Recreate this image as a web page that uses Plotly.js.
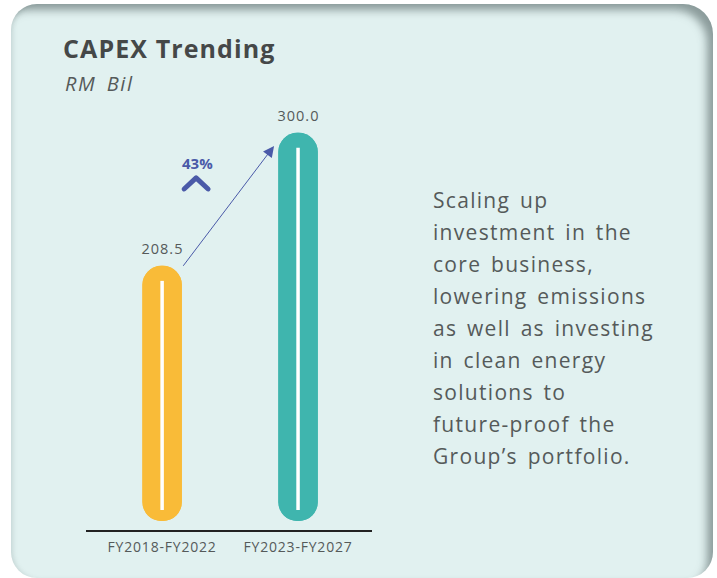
<!DOCTYPE html>
<html>
<head>
<meta charset="utf-8">
<script src="https://cdn.plot.ly/plotly-3.0.1.min.js"></script>
<style>
  html, body { margin: 0; padding: 0; background: #ffffff; width: 717px; height: 578px; overflow: hidden; }
  #panel {
    position: absolute; left: 11px; top: 4px; width: 702px; height: 574px;
    background: #e1f1f0; border-radius: 26px 30px 26px 26px;
    box-shadow: inset -9px 9px 8px -3px rgba(70, 85, 85, 0.55), inset 4px 0 4px -2px rgba(120,140,140,0.25);
  }
  #chart { position: absolute; left: 0; top: 0; width: 717px; height: 578px; }
  .xtick text { letter-spacing: 0.8px; }
  .gtitle { letter-spacing: 1.1px; }
</style>
</head>
<body>
<div id="panel"></div>
<div id="chart"></div>
<script>
// ---- data ----
const CATEGORIES = ["FY2018-FY2022", "FY2023-FY2027"];
const VALUES = [208.5, 300.0];
const VALUE_LABELS = ["208.5", "300.0"];
const BAR_COLORS = ["#f9bb38", "#3fb5ae"];
const GROWTH_LABEL = "43%";
const TITLE = "CAPEX Trending";
const SUBTITLE = "RM Bil";
const DESC_LINES = [
  "Scaling up",
  "investment in the",
  "core business,",
  "lowering emissions",
  "as well as investing",
  "in clean energy",
  "solutions to",
  "future-proof the",
  "Group\u2019s portfolio."
];

// ---- layout constants ----
const W = 717, H = 578;
const plotL = 86, plotR = 372, plotT = 100, plotB = 530;
const BAR_BASE = 33;          // bottom of pills (data units)
const Y_RANGE = [26.8, 322.6];
const PX_PER_UNIT = (plotB - plotT) / (Y_RANGE[1] - Y_RANGE[0]);
const BAR_WIDTH = 0.29;
const TXT = "#555a5a";
const ACCENT = "#4a5aa8";
const FONT = "Open Sans, Lato, sans-serif";

const px2paperX = px => (px - plotL) / (plotR - plotL);
const px2paperY = py => (plotB - py) / (plotB - plotT);

const traces = [
  { // upward bar: rounded top
    type: "bar", x: CATEGORIES, y: VALUES.map(v => v - BAR_BASE), base: VALUES.map(() => BAR_BASE),
    width: BAR_WIDTH, marker: { color: BAR_COLORS, cornerradius: "50%", line: { width: 0 } },
    hoverinfo: "skip", showlegend: false
  },
  { // downward bar: rounded bottom
    type: "bar", x: CATEGORIES, y: VALUES.map(v => -(v - BAR_BASE)), base: VALUES,
    width: BAR_WIDTH, marker: { color: BAR_COLORS, cornerradius: "50%", line: { width: 0 } },
    hoverinfo: "skip", showlegend: false
  }
];
// white centre lines
CATEGORIES.forEach((c, i) => {
  traces.push({
    type: "scatter", mode: "lines", x: [c, c],
    y: [BAR_BASE + 11 / PX_PER_UNIT, VALUES[i] - 15 / PX_PER_UNIT],
    line: { color: "#ffffff", width: 3.5 }, hoverinfo: "skip", showlegend: false
  });
});

const annotations = [];
CATEGORIES.forEach((c, i) => {
  annotations.push({
    x: i, y: VALUES[i], xref: "x", yref: "y", text: VALUE_LABELS[i], showarrow: false,
    yanchor: "bottom", yshift: 6, font: { family: FONT, size: 14.5, color: TXT }
  });
});
// growth arrow
annotations.push({
  x: 1 - 24 / 136, y: VALUES[1] - 9, xref: "x", yref: "y",
  ax: 20 / 136, ay: VALUES[0] - 1, axref: "x", ayref: "y",
  text: "", showarrow: true, arrowhead: 2, arrowsize: 2.2, arrowwidth: 1, arrowcolor: ACCENT, standoff: 0, startstandoff: 0
});
annotations.push({
  x: 0.257, y: 279.3, xref: "x", yref: "y", text: "<b>" + GROWTH_LABEL + "</b>", showarrow: false,
  font: { family: FONT, size: 15, color: ACCENT }
});
// subtitle
annotations.push({
  x: px2paperX(63), y: px2paperY(84), xref: "paper", yref: "paper", text: "<i>" + SUBTITLE + "</i>", showarrow: false,
  xanchor: "left", yanchor: "middle", align: "left", font: { family: FONT, size: 20, color: TXT }
});
// description lines
DESC_LINES.forEach((t, k) => {
  annotations.push({
    x: px2paperX(431), y: px2paperY(200 + k * 32), xref: "paper", yref: "paper", text: t, showarrow: false,
    xanchor: "left", yanchor: "middle", align: "left", font: { family: FONT, size: 21, color: TXT }
  });
});

const layout = {
  width: W, height: H,
  margin: { l: plotL, r: W - plotR, t: plotT, b: H - plotB, pad: 0 },
  paper_bgcolor: "rgba(0,0,0,0)", plot_bgcolor: "rgba(0,0,0,0)",
  barmode: "overlay",
  title: {
    text: "<b>" + TITLE + "</b>", xref: "container", yref: "container",
    x: 63 / W, xanchor: "left", y: 1 - 49 / H, yanchor: "middle",
    font: { family: FONT, size: 25, color: "#454848" }
  },
  xaxis: {
    type: "category", range: [-0.56, 1.544], showgrid: false, zeroline: false,
    showline: true, linecolor: "#222222", linewidth: 1.5, ticks: "", ticklabelstandoff: 4,
    tickfont: { family: FONT, size: 14, color: TXT }, fixedrange: true
  },
  yaxis: { range: Y_RANGE, visible: false, showgrid: false, zeroline: false, fixedrange: true },
  shapes: [{
    type: "path", xref: "x", yref: "y",
    path: "M 0.162 261.4 L 0.25 269.0 L 0.338 261.4",
    line: { color: ACCENT, width: 5 }
  }],
  annotations: annotations,
  showlegend: false
};

Plotly.newPlot("chart", traces, layout, { displayModeBar: false, staticPlot: true }).then(gd => {
  const spacing = {};
  DESC_LINES.forEach(t => spacing[t] = ["1.3px", "3px", true]);
  VALUE_LABELS.forEach(t => spacing[t] = ["1px", "0px", false]);
  spacing[SUBTITLE] = ["1.5px", "4px", true];
  gd.querySelectorAll(".annotation-text").forEach(el => {
    const s = spacing[el.textContent];
    if (!s) return;
    if (s[2]) {
      // keep left edge fixed when widening the text
      const before = el.getBBox().x;
      el.setAttribute("text-anchor", "start");
      el.querySelectorAll("tspan").forEach(ts => { if (ts.hasAttribute("x")) ts.setAttribute("x", before); });
      el.setAttribute("x", before);
    }
    el.style.letterSpacing = s[0]; el.style.wordSpacing = s[1];
  });
  const sp = gd.querySelector(".shapelayer path");
  if (sp) { sp.style.strokeLinecap = "round"; sp.style.strokeLinejoin = "round"; }
});
</script>
</body>
</html>
